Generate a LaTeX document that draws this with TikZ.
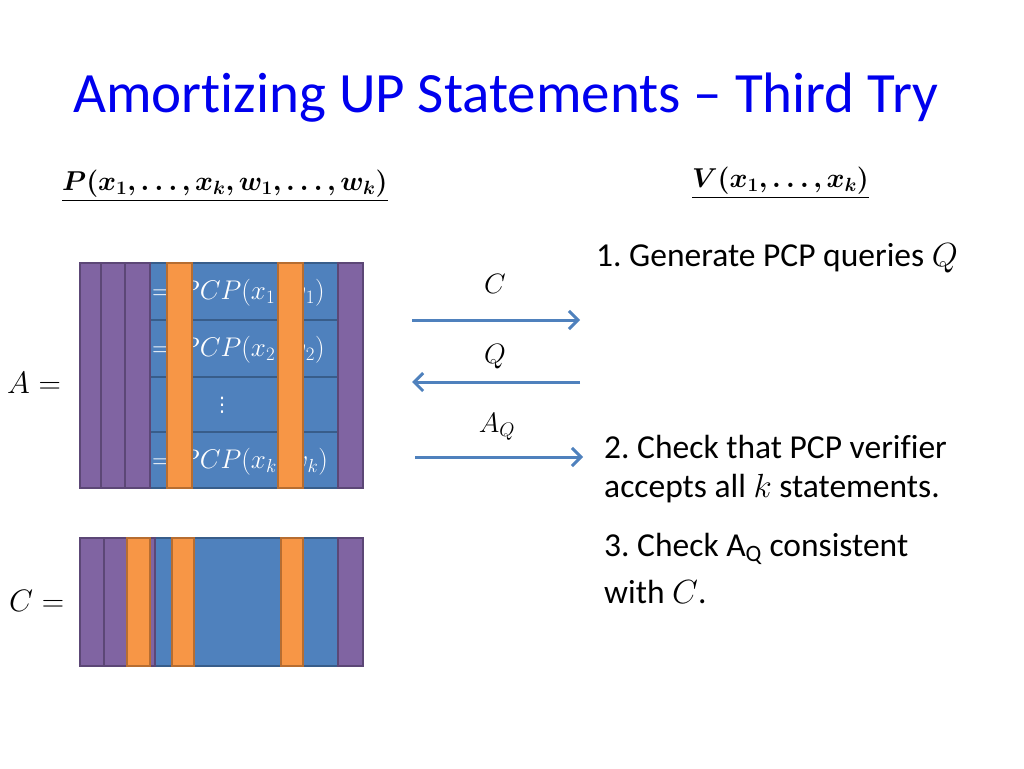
\RequirePackage{fix-cm}
\documentclass[tikz,border=0pt]{standalone}
\usepackage{amsmath,bm}
\usepackage{fontspec}
\setmainfont{Carlito}[Ligatures={NoCommon}]
\newfontfamily\dvs{DejaVu Sans}
\usetikzlibrary{arrows.meta}
\frenchspacing
\definecolor{ttl}{RGB}{0,0,238}
\definecolor{pur}{RGB}{128,100,162}
\definecolor{purd}{RGB}{92,71,118}
\definecolor{blu}{RGB}{79,129,189}
\definecolor{blud}{RGB}{56,93,138}
\definecolor{org}{RGB}{247,150,70}
\definecolor{orgd}{RGB}{182,109,49}
\tikzset{
  pstrip/.style={fill=pur,draw=purd,line width=1.5pt},
  bstrip/.style={fill=blu,draw=blud,line width=1.5pt},
  ostrip/.style={fill=org,draw=orgd,line width=1.5pt},
  body/.style={font=\fontsize{33.5}{40}\selectfont,inner sep=0pt},
  mth/.style={font=\fontsize{28}{34}\selectfont,inner sep=0pt},
  big/.style={font=\fontsize{31}{38}\selectfont,inner sep=0pt},
  hdr/.style={font=\fontsize{27.3}{34}\selectfont,inner sep=0pt,anchor=west},
  wtxt/.style={font=\fontsize{27}{34}\selectfont,text=white,inner sep=0pt,anchor=west},
  arr/.style={draw=blu,line width=3pt,-{Straight Barb[length=9pt,width=18pt,line width=3pt]}},
}
\begin{document}
\begin{tikzpicture}[x=1pt,y=-1pt]
\useasboundingbox (0,0) rectangle (1024,768);
% title
\node[font=\fontsize{57}{66}\selectfont,text=ttl,anchor=west,inner sep=0pt] (title) at (73,98) {Amortizing UP Statements -- Third Try};
% headers
\node[hdr] (hp) at (62,186) {$\underline{\bm{P(x_1,\ldots,x_k,w_1,\ldots,w_k)}}$};
\node[hdr] (hv) at (692,183) {$\underline{\bm{V(x_1,\ldots,x_k)}}$};
% A block
\node[big,anchor=west] (Alab) at (7,383) {$A =$};
\draw[bstrip] (150,263) rectangle (338,320);
\draw[bstrip] (150,320) rectangle (338,377);
\draw[bstrip] (150,377) rectangle (338,432);
\draw[bstrip] (150,432) rectangle (338,488);
\node[wtxt] (r1) at (152,293) {$= PCP(x_1, w_1)$};
\node[wtxt] (r2) at (152,350) {$= PCP(x_2, w_2)$};
\node[font=\dvs\fontsize{20}{24}\selectfont,text=white,inner sep=0pt] (r3) at (222,405) {⋮};
\node[wtxt] (r4) at (152,462) {$= PCP(x_k, w_k)$};
\draw[ostrip] (167,263) rectangle (192,488);
\draw[ostrip] (278,263) rectangle (303,488);
\draw[pstrip] (80,263) rectangle (101,488);
\draw[pstrip] (101,263) rectangle (125,488);
\draw[pstrip] (125,263) rectangle (150,488);
\draw[pstrip] (338,263) rectangle (363,488);
% C block
\node[big,anchor=west] (Clab) at (9,601) {$C =$};
\draw[bstrip] (150,538) rectangle (338,666);
\draw[pstrip] (80,538) rectangle (104,666);
\draw[pstrip] (104,538) rectangle (127,666);
\draw[pstrip] (150,538) rectangle (155,666);
\draw[ostrip] (127,538) rectangle (150,666);
\draw[ostrip] (172,538) rectangle (194,666);
\draw[ostrip] (281,538) rectangle (303,666);
\draw[pstrip] (338,538) rectangle (363,666);
% arrows
\coordinate (a1s) at (412,320); \coordinate (a1e) at (580,320);
\coordinate (a2s) at (580,382); \coordinate (a2e) at (412,382);
\coordinate (a3s) at (415,457); \coordinate (a3e) at (583,457);
\draw[arr] (a1s) -- (a1e);
\draw[arr] (a2s) -- (a2e);
\draw[arr] (a3s) -- (a3e);
\node[mth] (lC) at (495,284) {$C$};
\node[mth] (lQ) at (495,357) {$Q$};
\node[mth] (lA) at (497,427) {$A_Q$};
% right text
\node[body,anchor=west] (t1) at (596,258) {1. Generate PCP queries $Q$};
\node[body,anchor=west] (t2) at (604,447) {2. Check that PCP verifier};
\node[body,anchor=west] (t2b) at (604,489) {accepts all $k$ statements.};
\node[body,anchor=west] (t3) at (604,549) {3. Check $\mathrm{A_Q}$ consistent};
\node[body,anchor=west] (t3b) at (604,592) {with $C$.};
\end{tikzpicture}
\end{document}
